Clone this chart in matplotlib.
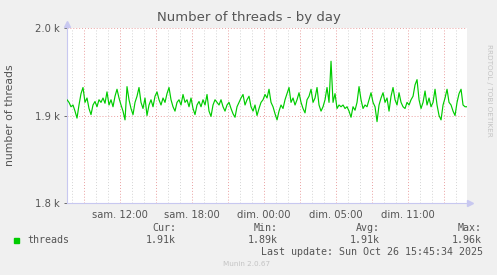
import matplotlib
matplotlib.use("Agg")
import matplotlib.pyplot as plt

# Munin "threads" graph, one sample every ~10 min (2 px) over the 33h window
threads = [
    1918, 1915, 1910, 1912, 1905, 1897, 1912, 1925, 1932, 1915, 1920, 1908, 1901,
    1912, 1916, 1910, 1918, 1915, 1920, 1914, 1927, 1912, 1918, 1910, 1922,
    1930, 1920, 1912, 1905, 1895, 1933, 1918, 1908, 1901, 1915, 1922, 1932, 1915,
    1908, 1920, 1900, 1912, 1918, 1910, 1922, 1927, 1918, 1912, 1920, 1915,
    1925, 1932, 1918, 1910, 1905, 1915, 1918, 1912, 1924, 1915, 1918, 1910, 1920,
    1908, 1901, 1912, 1916, 1910, 1918, 1912, 1924, 1905, 1899, 1912, 1918,
    1915, 1912, 1918, 1910, 1905, 1912, 1915, 1908, 1902, 1898, 1910, 1915, 1920,
    1924, 1912, 1918, 1922, 1910, 1905, 1912, 1900, 1908, 1915, 1918, 1924,
    1920, 1930, 1915, 1910, 1902, 1895, 1905, 1912, 1908, 1918, 1925, 1932, 1915,
    1920, 1912, 1918, 1926, 1915, 1908, 1903, 1918, 1922, 1930, 1915, 1920,
    1932, 1912, 1905, 1910, 1918, 1932, 1915, 1962, 1915, 1925, 1908, 1912, 1910,
    1912, 1908, 1910, 1905, 1898, 1910, 1906, 1915, 1933, 1918, 1908, 1912,
    1910, 1918, 1926, 1915, 1910, 1893, 1912, 1920, 1926, 1915, 1920, 1905, 1922,
    1932, 1918, 1912, 1926, 1915, 1910, 1908, 1915, 1912, 1918, 1922, 1935,
    1941, 1918, 1908, 1915, 1928, 1912, 1920, 1910, 1915, 1930, 1912, 1900, 1895,
    1912, 1920, 1930, 1915, 1912, 1905, 1900, 1915, 1925, 1930, 1912, 1910, 1910,
]
hours = [i / 6 for i in range(len(threads))]

tick_hours = [4.417, 10.417, 16.417, 22.417, 28.417]
tick_labels = ["sam. 12:00", "sam. 18:00", "dim. 00:00", "dim. 05:00", "dim. 11:00"]
major_hours = [1.417 + 3 * k for k in range(11)]
minor_hours = [0.417 + k for k in range(33)]

stat_names = ["Cur:", "Min:", "Avg:", "Max:"]
stat_values = ["1.91k", "1.89k", "1.91k", "1.96k"]

W, H = 497, 275
fig = plt.figure(figsize=(W / 100, H / 100), dpi=100, facecolor="#f0f0f0")
ax = fig.add_axes([67 / W, 1 - 203 / H, 400 / W, 175 / H])
ax.set_facecolor("white")

for h in minor_hours:
    if h not in major_hours:
        ax.axvline(h, color="#d4d4d4", lw=0.7, ls=(0, (1, 2)), zorder=1)
for h in major_hours:
    ax.axvline(h, color="#eaa0a0", lw=0.7, ls=(0, (1, 2)), zorder=1)
for v in [1900, 2000]:
    ax.axhline(v, color="#eaa0a0", lw=0.7, ls=(0, (1, 2)), zorder=1)

ax.plot(hours, threads, color="#00cc00", lw=0.85, zorder=3)

ax.set_xlim(0, 33.33)
ax.set_ylim(1800, 2000)
ax.set_yticks([1800, 1900, 2000])
ax.set_yticklabels(["1.8 k", "1.9 k", "2.0 k"])
ax.set_xticks(tick_hours)
ax.set_xticklabels(tick_labels)
ax.tick_params(colors="#555555", labelsize=7.2, length=2, width=0.6, pad=3)
ax.tick_params(axis="x", length=0, pad=5)
for s in ["top", "right"]:
    ax.spines[s].set_visible(False)
ax.spines["left"].set_color("#c8c8f0")
ax.spines["bottom"].set_color("#c8c8f0")
ax.spines["bottom"].set_linestyle((0, (1, 1)))
ax.plot(0, 2005, marker="^", color="#c8c8f0", ms=4, clip_on=False)
ax.plot(33.6, 1800, marker=">", color="#c8c8f0", ms=4, clip_on=False)

def ftext(x, y, s, **kw):
    fig.text(x / W, 1 - y / H, s, **kw)

ftext(249, 18, "Number of threads - by day", ha="center", va="center",
      fontsize=9.5, color="#555555")
ftext(10, 115, "number of threads", ha="center", va="center", rotation=90,
      fontsize=7.8, color="#555555")
ftext(489, 90, "RRDTOOL / TOBI OETIKER", ha="center", va="center", rotation=-90,
      fontsize=5.2, color="#c4c4c4")

mono = dict(family="DejaVu Sans Mono", fontsize=7.2, color="#555555", va="center")
fig.patches.append(plt.Rectangle((14 / W, 1 - 243 / H), 5 / W, 5 / H,
                                 transform=fig.transFigure, color="#00cc00"))
ftext(27, 240, "threads", ha="left", **mono)
for i, (n, v) in enumerate(zip(stat_names, stat_values)):
    ftext(176 + 102 * i, 228, n, ha="right", **mono)
    ftext(176 + 102 * i, 240, v, ha="right", **mono)
ftext(483, 252, "Last update: Sun Oct 26 15:45:34 2025", ha="right", **mono)
ftext(247, 264, "Munin 2.0.67", ha="center", va="center", fontsize=5.2,
      color="#c4c4c4")

fig.savefig("out.png", dpi=100, facecolor=fig.get_facecolor())
